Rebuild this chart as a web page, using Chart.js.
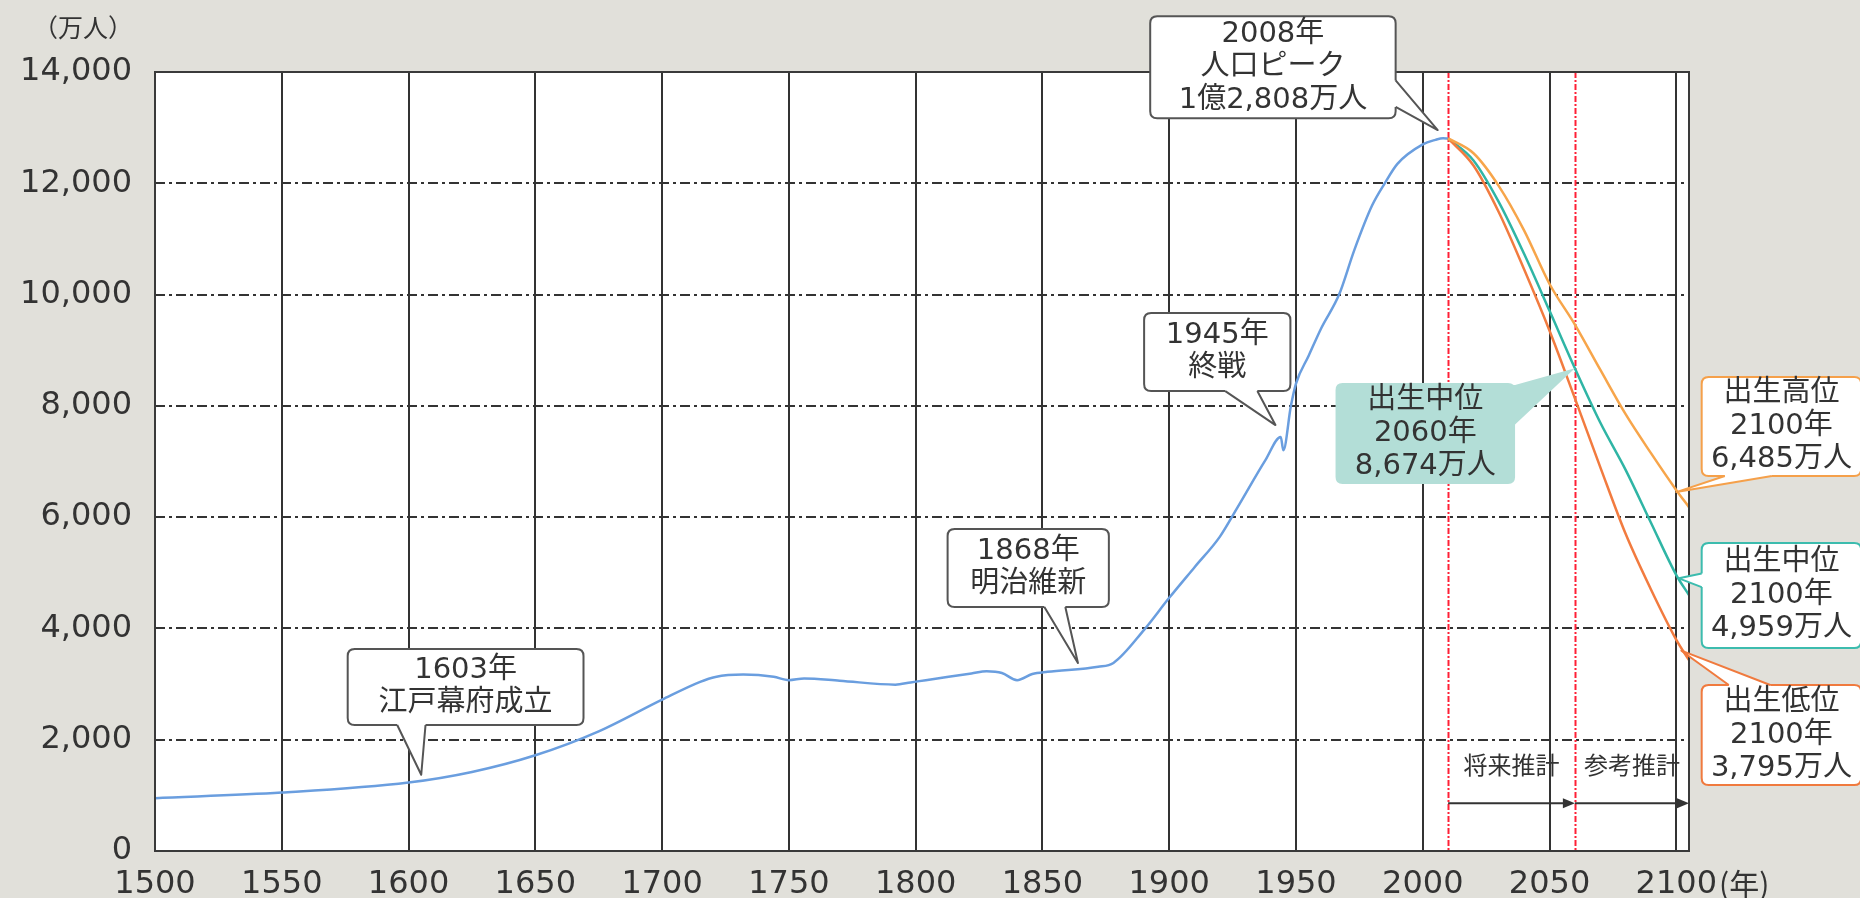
<!DOCTYPE html>
<html lang="ja">
<head>
<meta charset="utf-8">
<title>我が国の総人口の長期的推移</title>
<script src="https://cdn.jsdelivr.net/npm/chart.js@4.4.1/dist/chart.umd.min.js"></script>
<style>
  html, body { margin: 0; padding: 0; background: #e1e0da; }
  #wrap { width: 1860px; height: 898px; }
</style>
</head>
<body>
<div id="wrap"><canvas id="popChart" width="1860" height="898"></canvas></div>
<script>
// 総人口の推移（万人）
const histYears = [1500, 1550, 1600, 1625, 1650, 1675, 1700, 1715, 1721, 1732, 1744, 1750, 1756, 1770, 1792, 1798, 1804, 1822, 1828, 1834, 1840, 1846, 1852, 1872, 1878, 1890, 1900, 1910, 1920, 1927, 1938, 1944, 1945, 1948, 1950, 1955, 1960, 1967, 1973, 1980, 1985, 1990, 2000, 2005, 2008, 2010];
const histValues = [950, 1050, 1230, 1420, 1720, 2150, 2720, 3040, 3128, 3170, 3130, 3070, 3100, 3060, 2990, 3030, 3070, 3190, 3230, 3200, 3070, 3180, 3220, 3310, 3380, 3970, 4550, 5100, 5650, 6180, 7030, 7440, 7200, 8000, 8400, 8900, 9400, 10000, 10800, 11600, 12000, 12350, 12700, 12780, 12808, 12806];

// 将来推計・参考推計（万人）
const projYears = [2010, 2020, 2030, 2040, 2050, 2060, 2070, 2080, 2090, 2100, 2105];
const projHigh = [12806, 12540, 11950, 11150, 10190, 9460, 8650, 7850, 7150, 6485, 6180];
const projMid = [12806, 12410, 11662, 10728, 9708, 8674, 7700, 6850, 5900, 4959, 4600];
const projLow = [12806, 12320, 11480, 10450, 9350, 8135, 6900, 5700, 4700, 3795, 3430];

const xTickYears = [1500, 1550, 1600, 1650, 1700, 1750, 1800, 1850, 1900, 1950, 2000, 2050, 2100];
const yTickValues = [0, 2000, 4000, 6000, 8000, 10000, 12000, 14000];
const markerYears = [2010, 2060];
const periodLabels = ['将来推計', '参考推計'];

const X_MAX = 2105;
const textColor = '#333';
const numFont = '"DejaVu Sans", "Noto Sans CJK JP", sans-serif';
const jpFont = '"Noto Sans CJK JP", sans-serif';

// 吹き出し（box: [左年, 右年, 上値, 下値], tip: [年, 値]）
const callouts = [
    { lines: ['1603年', '江戸幕府成立'], box: [1576, 1669, 3630, 2264], tip: [1605, 1370], tail: ['bottom', 0.21, 0.33], stroke: '#555', fill: '#fff' },
    { lines: ['1868年', '明治維新'], box: [1812.6, 1876.2, 5786, 4385], tip: [1864, 3378], tail: ['bottom', 0.60, 0.73], stroke: '#555', fill: '#fff' },
    { lines: ['1945年', '終戦'], box: [1890.1, 1947.8, 9668, 8266], tip: [1941.9, 7655], tail: ['bottom', 0.555, 0.774], stroke: '#555', fill: '#fff' },
    { lines: ['2008年', '人口ピーク', '1億2,808万人'], box: [1892.5, 1989.3, 15004, 13171], tip: [2005.9, 12956], tail: ['right', 0.63, 0.89], stroke: '#555', fill: '#fff' },
    { lines: ['出生中位', '2060年', '8,674万人'], box: [1965.6, 2036.4, 8410, 6595], tip: [2060, 8674], tail: ['right', 0.02, 0.41], stroke: null, fill: '#b3ded7' },
    { lines: ['出生高位', '2100年', '6,485万人'], box: [2110, 2172.9, 8518, 6740], tip: [2100, 6450], tail: ['bottom', 0.145, 0.44], stroke: '#f5a04a', fill: '#fff' },
    { lines: ['出生中位', '2100年', '4,959万人'], box: [2110, 2172.9, 5535, 3648], tip: [2101, 4900], tail: ['left', 0.29, 0.42], stroke: '#3cbcae', fill: '#fff' },
    { lines: ['出生低位', '2100年', '3,795万人'], box: [2110, 2172.9, 2983, 1186], tip: [2102, 3600], tail: ['top', 0.17, 0.43], stroke: '#f07a3e', fill: '#fff' }
];

function toPoints(xs, ys) {
    return xs.map((x, i) => ({ x: x, y: ys[i] }));
}

function roundRectPath(ctx, l, t, w, h, r) {
    ctx.beginPath();
    ctx.moveTo(l + r, t);
    ctx.lineTo(l + w - r, t);
    ctx.quadraticCurveTo(l + w, t, l + w, t + r);
    ctx.lineTo(l + w, t + h - r);
    ctx.quadraticCurveTo(l + w, t + h, l + w - r, t + h);
    ctx.lineTo(l + r, t + h);
    ctx.quadraticCurveTo(l, t + h, l, t + h - r);
    ctx.lineTo(l, t + r);
    ctx.quadraticCurveTo(l, t, l + r, t);
    ctx.closePath();
}

function drawCallout(ctx, xs, ys, c) {
    const left = xs.getPixelForValue(c.box[0]);
    const right = xs.getPixelForValue(c.box[1]);
    const top = ys.getPixelForValue(c.box[2]);
    const bottom = ys.getPixelForValue(c.box[3]);
    const tipX = xs.getPixelForValue(c.tip[0]);
    const tipY = ys.getPixelForValue(c.tip[1]);
    const [side, f1, f2] = c.tail;
    let b1, b2, inw;
    if (side === 'bottom') {
        b1 = [left + (right - left) * f1, bottom]; b2 = [left + (right - left) * f2, bottom]; inw = [0, -1];
    } else if (side === 'top') {
        b1 = [left + (right - left) * f1, top]; b2 = [left + (right - left) * f2, top]; inw = [0, 1];
    } else if (side === 'left') {
        b1 = [left, top + (bottom - top) * f1]; b2 = [left, top + (bottom - top) * f2]; inw = [1, 0];
    } else {
        b1 = [right, top + (bottom - top) * f1]; b2 = [right, top + (bottom - top) * f2]; inw = [-1, 0];
    }

    ctx.save();
    ctx.lineWidth = 2;
    ctx.lineJoin = 'round';
    roundRectPath(ctx, left, top, right - left, bottom - top, 7);
    ctx.fillStyle = c.fill;
    ctx.fill();
    if (c.stroke) {
        ctx.strokeStyle = c.stroke;
        ctx.stroke();
    }
    // tail
    ctx.beginPath();
    ctx.moveTo(b1[0] + inw[0] * 3, b1[1] + inw[1] * 3);
    ctx.lineTo(b1[0], b1[1]);
    ctx.lineTo(tipX, tipY);
    ctx.lineTo(b2[0], b2[1]);
    ctx.lineTo(b2[0] + inw[0] * 3, b2[1] + inw[1] * 3);
    ctx.closePath();
    ctx.fill();
    if (c.stroke) {
        ctx.beginPath();
        ctx.moveTo(b1[0], b1[1]);
        ctx.lineTo(tipX, tipY);
        ctx.lineTo(b2[0], b2[1]);
        ctx.stroke();
    }
    // text
    ctx.fillStyle = textColor;
    ctx.font = '29px ' + numFont;
    ctx.textAlign = 'center';
    ctx.textBaseline = 'middle';
    const cx = (left + right) / 2;
    const cy = (top + bottom) / 2;
    const lh = 33;
    c.lines.forEach((line, i) => {
        ctx.fillText(line, cx, cy + (i - (c.lines.length - 1) / 2) * lh);
    });
    ctx.restore();
}

function drawArrow(ctx, x1, x2, y) {
    ctx.beginPath();
    ctx.moveTo(x1, y);
    ctx.lineTo(x2 - 8, y);
    ctx.stroke();
    ctx.beginPath();
    ctx.moveTo(x2, y);
    ctx.lineTo(x2 - 12, y - 5);
    ctx.lineTo(x2 - 12, y + 5);
    ctx.closePath();
    ctx.fill();
}

const decorPlugin = {
    id: 'decor',
    beforeDraw(chart) {
        const { ctx, chartArea: a } = chart;
        ctx.save();
        ctx.fillStyle = '#e1e0da';
        ctx.fillRect(0, 0, chart.width, chart.height);
        ctx.fillStyle = '#fff';
        ctx.fillRect(a.left, a.top, a.right - a.left, a.bottom - a.top);
        ctx.restore();
    },
    beforeDatasetsDraw(chart) {
        const { ctx, chartArea: a } = chart;
        const xs = chart.scales.x, ys = chart.scales.y;
        ctx.save();
        // 推計開始の赤い点線
        ctx.strokeStyle = '#ff2036';
        ctx.lineWidth = 2;
        ctx.setLineDash([6, 2, 2, 2]);
        markerYears.forEach(yr => {
            const px = Math.round(xs.getPixelForValue(yr)) + 0.5;
            ctx.beginPath();
            ctx.moveTo(px, a.top);
            ctx.lineTo(px, a.bottom);
            ctx.stroke();
        });
        ctx.setLineDash([]);
        // 矢印
        ctx.strokeStyle = '#333';
        ctx.fillStyle = '#333';
        ctx.lineWidth = 2;
        const ay = ys.getPixelForValue(860);
        const bounds = [markerYears[0], markerYears[1], X_MAX];
        drawArrow(ctx, xs.getPixelForValue(bounds[0]), xs.getPixelForValue(bounds[1]), ay);
        drawArrow(ctx, xs.getPixelForValue(bounds[1]), xs.getPixelForValue(bounds[2]), ay);
        // 将来推計・参考推計
        ctx.font = '24px ' + jpFont;
        ctx.textAlign = 'center';
        ctx.textBaseline = 'middle';
        periodLabels.forEach((t, i) => {
            const mid = (bounds[i] + bounds[i + 1]) / 2;
            ctx.fillText(t, xs.getPixelForValue(mid), ys.getPixelForValue(1550));
        });
        ctx.restore();
    },
    afterDatasetsDraw(chart) {
        const { ctx, chartArea: a } = chart;
        const xs = chart.scales.x, ys = chart.scales.y;
        ctx.save();
        ctx.strokeStyle = '#3a3a3a';
        ctx.lineWidth = 2;
        ctx.strokeRect(a.left, a.top, a.right - a.left, a.bottom - a.top);
        ctx.restore();

        callouts.forEach(c => drawCallout(ctx, xs, ys, c));

        // 単位
        ctx.save();
        ctx.fillStyle = textColor;
        ctx.textBaseline = 'middle';
        ctx.font = '25px ' + jpFont;
        ctx.textAlign = 'right';
        ctx.fillText('（万人）', a.left - 22, 27);
        const px2100 = xs.getPixelForValue(2100);
        ctx.font = '32px ' + numFont;
        const w = ctx.measureText('2100').width;
        ctx.font = '30px ' + jpFont;
        ctx.textAlign = 'left';
        ctx.fillText('(年)', px2100 + w / 2 + 2, a.bottom + 33);
        ctx.restore();
    }
};

new Chart(document.getElementById('popChart'), {
    type: 'line',
    data: {
        datasets: [{
            label: '出生高位',
            data: toPoints(projYears, projHigh),
            borderColor: '#f7a54a',
            borderWidth: 2.5
        }, {
            label: '出生低位',
            data: toPoints(projYears, projLow),
            borderColor: '#f27b3f',
            borderWidth: 2.5
        }, {
            label: '出生中位',
            data: toPoints(projYears, projMid),
            borderColor: '#2fb5a5',
            borderWidth: 2.5
        }, {
            label: '総人口',
            data: toPoints(histYears, histValues),
            borderColor: '#6a9edf',
            borderWidth: 2.5
        }]
    },
    options: {
        responsive: false,
        animation: false,
        events: [],
        layout: { padding: { left: 0, right: 171, top: 72, bottom: 0 } },
        elements: {
            point: { radius: 0 },
            line: { cubicInterpolationMode: 'monotone', fill: false }
        },
        plugins: {
            legend: { display: false },
            tooltip: { enabled: false },
            title: { display: false }
        },
        scales: {
            x: {
                type: 'linear',
                min: 1500,
                max: X_MAX,
                afterBuildTicks: (scale) => {
                    scale.ticks = xTickYears.map(v => ({ value: v }));
                },
                afterFit: (scale) => { scale.height = 47; },
                grid: { color: '#333', lineWidth: 2, drawTicks: false },
                border: { display: false },
                ticks: {
                    color: textColor,
                    padding: 14,
                    maxRotation: 0,
                    autoSkip: false,
                    font: { family: numFont, size: 32 },
                    callback: (v) => String(v)
                }
            },
            y: {
                min: 0,
                max: 14000,
                afterBuildTicks: (scale) => {
                    scale.ticks = yTickValues.map(v => ({ value: v }));
                },
                afterFit: (scale) => { scale.width = 155; },
                grid: { color: '#333', lineWidth: 2, drawTicks: false },
                border: { display: false, dash: [10, 4, 3, 4] },
                ticks: {
                    color: textColor,
                    padding: 23,
                    font: { family: numFont, size: 32 },
                    callback: (v) => v.toLocaleString('en-US')
                }
            }
        }
    },
    plugins: [decorPlugin]
});
</script>
</body>
</html>
